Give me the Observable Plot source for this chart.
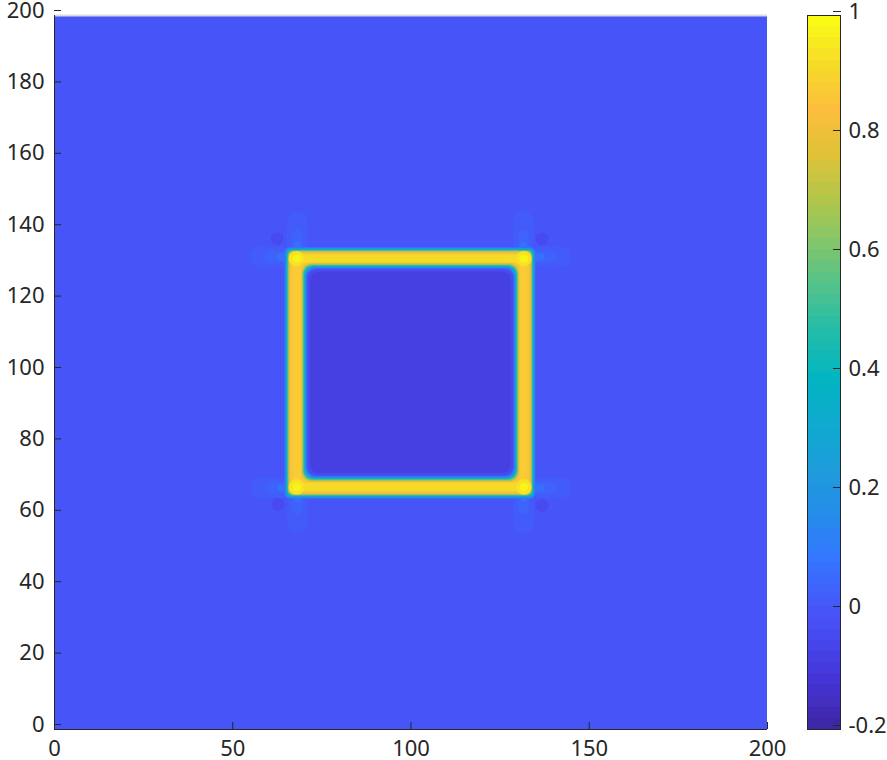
<!DOCTYPE html>
<html><head><meta charset="utf-8">
<script src="https://cdn.jsdelivr.net/npm/d3@7"></script>
<script src="https://cdn.jsdelivr.net/npm/@observablehq/plot@0.6"></script>
<style>
body{margin:0;background:#fff;}
#wrap{display:flex;width:887px;height:760px;}
</style></head><body><div id="wrap"></div>
<script>
// ---- tick labels ----
const xTicks = [0, 50, 100, 150, 200];
const yTicks = [0, 20, 40, 60, 80, 100, 120, 140, 160, 180, 200];
const cbTicks = [-0.2, 0, 0.2, 0.4, 0.6, 0.8, 1];
const colorDomain = [-0.2, 1];

// ---- parula colormap anchors (position 0..1, colour) ----
const parulaPos = [0, 0.063, 0.143, 0.159, 0.238, 0.302, 0.365, 0.429, 0.492, 0.556, 0.619, 0.683, 0.746, 0.81, 0.873, 0.937, 1];
const parulaHex = ["#3e26a8", "#4535d6", "#474ff5", "#4654f8", "#3277fe", "#258ee9", "#1e9ddb", "#0eabce", "#02b5c0", "#22bcaa", "#4fc28d", "#81c66a", "#b3c64a", "#e0c138", "#fdbe3d", "#f6da28", "#f9fb15"];

// ---- field values (data coordinates, value) ----
const background = [{x1: 0, x2: 200, y1: 0, y2: 200, v: 0}];
const lobesOuter = [
  {x1: 65.3, x2: 71.2, y1: 133, y2: 145, v: 0.012},
  {x1: 55, x2: 66, y1: 129.3, y2: 135.2, v: 0.012},
  {x1: 128.8, x2: 134.7, y1: 133, y2: 145, v: 0.012},
  {x1: 134, x2: 145, y1: 129.3, y2: 135.2, v: 0.012},
  {x1: 65.3, x2: 71.2, y1: 55, y2: 67, v: 0.012},
  {x1: 55, x2: 66, y1: 64.6, y2: 70.5, v: 0.012},
  {x1: 128.8, x2: 134.7, y1: 55, y2: 67, v: 0.012},
  {x1: 134, x2: 145, y1: 64.6, y2: 70.5, v: 0.012}
];
const lobesInner = [
  {x1: 66.6, x2: 69.9, y1: 133, y2: 140, v: 0.035},
  {x1: 59, x2: 66, y1: 130.6, y2: 133.9, v: 0.035},
  {x1: 130.1, x2: 133.4, y1: 133, y2: 140, v: 0.035},
  {x1: 134, x2: 141, y1: 130.6, y2: 133.9, v: 0.035},
  {x1: 66.6, x2: 69.9, y1: 60, y2: 67, v: 0.035},
  {x1: 59, x2: 66, y1: 65.9, y2: 69.2, v: 0.035},
  {x1: 130.1, x2: 133.4, y1: 60, y2: 67, v: 0.035},
  {x1: 134, x2: 141, y1: 65.9, y2: 69.2, v: 0.035}
];
const lobesCore = [
  {x1: 67.2, x2: 69.3, y1: 133, y2: 136.5, v: 0.07},
  {x1: 62.5, x2: 66, y1: 131.2, y2: 133.3, v: 0.07},
  {x1: 130.7, x2: 132.8, y1: 133, y2: 136.5, v: 0.07},
  {x1: 134, x2: 137.5, y1: 131.2, y2: 133.3, v: 0.07},
  {x1: 67.2, x2: 69.3, y1: 63.5, y2: 67, v: 0.07},
  {x1: 62.5, x2: 66, y1: 66.5, y2: 68.6, v: 0.07},
  {x1: 130.7, x2: 132.8, y1: 63.5, y2: 67, v: 0.07},
  {x1: 134, x2: 137.5, y1: 66.5, y2: 68.6, v: 0.07}
];
const darkSpots = [
  {x1: 60.8, x2: 64.4, y1: 135.5, y2: 139.1, v: -0.045},
  {x1: 135.1, x2: 138.7, y1: 135.5, y2: 139.1, v: -0.045},
  {x1: 61.0, x2: 64.6, y1: 61.2, y2: 64.8, v: -0.045},
  {x1: 135.1, x2: 138.7, y1: 60.8, y2: 64.4, v: -0.045}
];
const ringOuter = [
  {x1: 64.6, x2: 135.1, y1: 64.5, y2: 135.0, v: 0.08},
  {x1: 64.9, x2: 134.8, y1: 64.8, y2: 134.7, v: 0.2},
  {x1: 65.2, x2: 134.5, y1: 65.1, y2: 134.4, v: 0.38},
  {x1: 65.5, x2: 134.2, y1: 65.4, y2: 134.1, v: 0.58},
  {x1: 65.8, x2: 133.9, y1: 65.7, y2: 133.8, v: 0.74},
  {x1: 66.1, x2: 133.6, y1: 66.0, y2: 133.5, v: 0.82},
  {x1: 66.5, x2: 133.2, y1: 66.4, y2: 133.1, v: 0.86}
];
const ringStrips = [
  {x1: 67, x2: 133, y1: 130.6, y2: 132.9, v: 0.91},
  {x1: 67, x2: 133, y1: 66.7, y2: 69.0, v: 0.91},
  {x1: 67.1, x2: 69.1, y1: 68, y2: 132, v: 0.88},
  {x1: 130.7, x2: 132.7, y1: 68, y2: 132, v: 0.88}
];
const ringCornersOuter = [
  {x1: 65.8, x2: 70.3, y1: 129.6, y2: 133.9, v: 0.94},
  {x1: 129.6, x2: 134.0, y1: 129.6, y2: 133.9, v: 0.94},
  {x1: 65.8, x2: 70.3, y1: 65.6, y2: 70.0, v: 0.94},
  {x1: 129.6, x2: 134.0, y1: 65.6, y2: 70.0, v: 0.94}
];
const ringCorners = [
  {x1: 66.9, x2: 69.3, y1: 130.7, y2: 132.9, v: 0.98},
  {x1: 130.6, x2: 133.0, y1: 130.7, y2: 132.9, v: 0.98},
  {x1: 66.9, x2: 69.3, y1: 66.7, y2: 68.9, v: 0.98},
  {x1: 130.6, x2: 133.0, y1: 66.7, y2: 68.9, v: 0.98}
];
const ringInner = [
  {x1: 69.3, x2: 130.6, y1: 69.2, y2: 130.6, v: 0.8},
  {x1: 69.6, x2: 130.3, y1: 69.5, y2: 130.3, v: 0.66},
  {x1: 69.9, x2: 130.0, y1: 69.8, y2: 130.0, v: 0.48},
  {x1: 70.2, x2: 129.7, y1: 70.1, y2: 129.7, v: 0.3},
  {x1: 70.5, x2: 129.4, y1: 70.4, y2: 129.4, v: 0.14},
  {x1: 70.8, x2: 129.1, y1: 70.7, y2: 129.1, v: 0.03},
  {x1: 71.1, x2: 128.8, y1: 71.0, y2: 128.8, v: -0.04},
  {x1: 71.8, x2: 128.1, y1: 71.7, y2: 128.1, v: -0.07},
  {x1: 74, x2: 126, y1: 74, y2: 126, v: -0.085}
];

// ---- build colour scale (64 discrete levels like MATLAB) ----
const cmap = d3.scaleLinear().domain(parulaPos).range(parulaHex).interpolate(d3.interpolateRgb);
const N = 64;
const colors64 = d3.range(N).map(i => cmap(i / (N - 1)));
const step = (colorDomain[1] - colorDomain[0]) / N;
const thresholds = d3.range(1, N).map(i => colorDomain[0] + i * step);
const colorScale = {type: "threshold", domain: thresholds, range: colors64};
const cbCells = d3.range(N).map(i => ({y1: colorDomain[0] + i * step, y2: colorDomain[0] + (i + 1) * step, v: colorDomain[0] + (i + 0.5) * step}));

const ink = "#262626";
const font = {fontFamily: "'Noto Sans', sans-serif", fontSize: "22px", color: ink, background: "transparent", overflow: "visible"};
const R = (data, rx) => Plot.rect(data, {x1: "x1", x2: "x2", y1: "y1", y2: "y2", fill: "v", rx});

const main = Plot.plot({
  width: 787, height: 760,
  marginLeft: 54, marginRight: 20, marginTop: 15, marginBottom: 31,
  style: font,
  x: {domain: [0, 200]},
  y: {domain: [0, 200]},
  color: colorScale,
  marks: [
    Plot.rect(background, {x1: "x1", x2: "x2", y1: "y1", y2: "y2", fill: "v", shapeRendering: "crispEdges"}),
    R(lobesOuter, 10),
    R(lobesInner, 6),
    R(lobesCore, 4),
    R(darkSpots, 7),
    R(ringOuter, 5),
    R(ringStrips, 3),
    R(ringCornersOuter, 9),
    R(ringCorners, 5),
    R(ringInner, 9),
    Plot.ruleY([200], {stroke: "#dcdcdc", strokeWidth: 2}),
    Plot.ruleX([0], {stroke: ink}),
    Plot.ruleY([0], {stroke: ink}),
    Plot.axisX({ticks: xTicks, tickSize: -7, tickPadding: 18, tickFormat: d => String(d), stroke: ink, fill: ink}),
    Plot.axisY({ticks: yTicks, tickSize: -7, tickPadding: 17, tickFormat: d => String(d), dy: -5, stroke: ink, fill: ink})
  ]
});

const bar = Plot.plot({
  width: 100, height: 760,
  marginLeft: 20, marginRight: 47, marginTop: 15, marginBottom: 31,
  style: font,
  x: {domain: [0, 1], axis: null},
  y: {domain: colorDomain},
  color: colorScale,
  marks: [
    Plot.rect(cbCells, {x1: 0, x2: 1, y1: "y1", y2: "y2", fill: "v", shapeRendering: "crispEdges"}),
    Plot.frame({stroke: ink}),
    Plot.axisY({anchor: "right", ticks: cbTicks, tickSize: -8, tickPadding: 16, tickFormat: d => String(d), dy: -4, stroke: ink, fill: ink})
  ]
});

const wrap = document.getElementById("wrap");
wrap.appendChild(main);
wrap.appendChild(bar);
</script></body></html>
